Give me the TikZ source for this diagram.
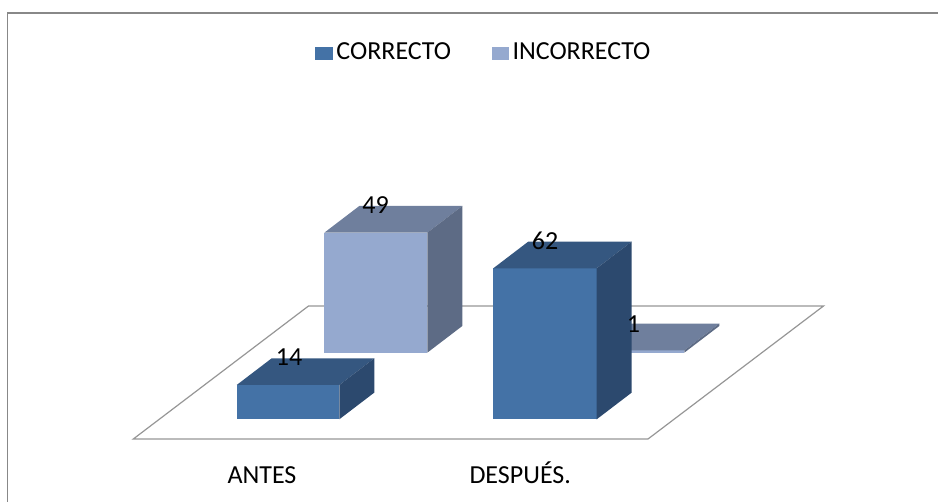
\documentclass[tikz,border=0pt]{standalone}
\usepackage{fontspec}
\setmainfont{Carlito}
\definecolor{cfront}{RGB}{68,114,166}
\definecolor{ctop}{RGB}{53,87,128}
\definecolor{cside}{RGB}{44,73,110}
\definecolor{ifront}{RGB}{149,169,207}
\definecolor{itop}{RGB}{111,127,157}
\definecolor{iside}{RGB}{93,107,133}
\definecolor{framegray}{RGB}{136,136,136}
\definecolor{floorgray}{RGB}{150,150,150}
\newcommand{\cubebar}[7]{%
  \fill[#5] (#1,#3) rectangle (#2,#4);
  \fill[#6] (#1,#4) -- (#1+35,#4-26.7) -- (#2+35,#4-26.7) -- (#2,#4) -- cycle;
  \fill[#7] (#2,#3) -- (#2,#4) -- (#2+35,#4-26.7) -- (#2+35,#3-26.7) -- cycle;}
\begin{document}
\begin{tikzpicture}[x=1pt,y=-1pt,
  lbl/.style={inner sep=0pt,font=\fontsize{26}{30}\selectfont,text=black},
  framestyle/.style={draw=framegray,line width=1.3pt},
  floorstyle/.style={draw=floorgray,line width=1.2pt,line join=miter}]
\useasboundingbox (0,0) rectangle (938,502);
\begin{scope}
\clip (0,0) rectangle (938,502);
\draw[framestyle] (7.3,520) -- (7.3,13) -- (950,13);
\end{scope}
% floor
\draw[floorstyle] (133.3,439) -- (648,439) -- (823.5,306) -- (308.5,306) -- cycle;
% back row (INCORRECTO)
\cubebar{324.3}{427.3}{352.7}{232.7}{ifront}{itop}{iside}
\cubebar{581.3}{684.3}{352.7}{350.3}{ifront}{itop}{iside}
% front row (CORRECTO)
\cubebar{236.7}{339.3}{419.3}{385}{cfront}{ctop}{cside}
\cubebar{493.3}{596.7}{419.3}{268.3}{cfront}{ctop}{cside}
% data labels
\node[lbl,anchor=base] (v14) at (289,366) {14};
\node[lbl,anchor=base] (v49) at (375.5,214) {49};
\node[lbl,anchor=base] (v62) at (545,249.3) {62};
\node[lbl,anchor=base] (v1) at (633.5,332.3) {1};
% legend
\fill[cfront] (315,47.3) rectangle (332.7,59.8);
\node[lbl,anchor=base west] (lc) at (336.2,60) {CORRECTO};
\fill[ifront] (491.7,47.3) rectangle (509.3,59.8);
\node[lbl,anchor=base west] (li) at (512.3,60) {INCORRECTO};
% category labels
\node[lbl,anchor=base west] (ca) at (227.3,483.3) {ANTES};
\node[lbl,anchor=base west] (cd) at (469.3,483.3) {DESPUÉS.};
\end{tikzpicture}
\end{document}
